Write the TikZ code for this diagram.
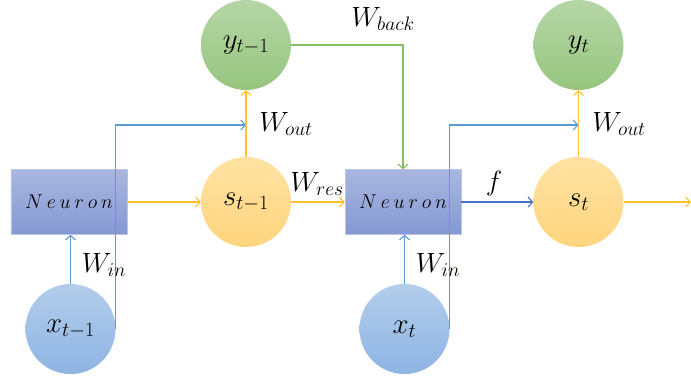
\documentclass[tikz,border=0pt]{standalone}
\usepackage{fix-cm}
\usetikzlibrary{arrows.meta}
\definecolor{blueline}{HTML}{5B9BD5}
\definecolor{darkblueline}{HTML}{4472C4}
\definecolor{yelline}{HTML}{FDC22E}
\definecolor{greenline}{HTML}{86BC62}
\definecolor{xtop}{HTML}{B3CDEB}
\definecolor{xbot}{HTML}{8EB4E3}
\definecolor{stop}{HTML}{FFE2A3}
\definecolor{sbot}{HTML}{FFD57E}
\definecolor{ytop}{HTML}{B5D6A6}
\definecolor{ybot}{HTML}{97C57F}
\definecolor{ntop}{HTML}{A9B6DF}
\definecolor{nbot}{HTML}{8598D2}
\newcommand{\neurontext}{$N\mkern3.5mu e\mkern3.5mu u\mkern3.5mu r\mkern3.5mu o\mkern3.5mu n$}
\tikzset{
  circ/.style={circle, minimum size=90bp, inner sep=0pt, font=\fontsize{29}{33}\selectfont},
  xc/.style={circ, top color=xtop, bottom color=xbot},
  sc/.style={circ, top color=stop, bottom color=sbot},
  yc/.style={circ, top color=ytop, bottom color=ybot},
  neuron/.style={rectangle, minimum width=116bp, minimum height=65bp, inner sep=0pt,
    top color=ntop, bottom color=nbot, draw=ntop!80!white, line width=0.4pt,
    font=\fontsize{20}{24}\selectfont},
  conn/.style={line width=1.4bp, -{Straight Barb[length=4.5bp,width=10bp,line width=1.1bp]}},
  lbl/.style={font=\fontsize{28}{32}\selectfont, inner sep=0pt}
}
\begin{document}
\begin{tikzpicture}[x=1bp,y=-1bp]
\useasboundingbox (0,0) rectangle (691,380);
% nodes
\node[neuron] (n1) at (69,202) {\neurontext};
\node[neuron] (n2) at (403,202) {\neurontext};
\node[xc] (x1) at (70.5,329) {$x_{t-1}$};
\node[xc] (x2) at (404.5,329) {$x_t$};
\node[sc] (s1) at (246,202) {$s_{t-1}$};
\node[sc] (s2) at (578.5,202) {$s_t$};
\node[yc] (y1) at (246,45) {$y_{t-1}$};
\node[yc] (y2) at (578.5,45) {$y_t$};
\coordinate (c1) at (246,125);
\coordinate (c2) at (578.5,125);
\coordinate (out) at (691,202);
% connectors
\draw[conn, blueline] (x1.north) -- (x1.north |- n1.south);
\draw[conn, blueline] (x1.east) |- (c1);
\draw[conn, yelline] (n1.east) -- (s1.west);
\draw[conn, yelline] (s1.north) -- (y1.south);
\draw[conn, yelline] (s1.east) -- (n2.west);
\draw[conn, greenline] (y1.east) -| (n2.north);
\draw[conn, blueline] (x2.north) -- (x2.north |- n2.south);
\draw[conn, blueline] (x2.east) |- (c2);
\draw[conn, darkblueline] (n2.east) -- (s2.west);
\draw[conn, yelline] (s2.north) -- (y2.south);
\draw[conn, yelline] (s2.east) -- (out);
% labels
\node[lbl] (lwin1) at (104,265) {$W_{in}$};
\node[lbl] (lwout1) at (286,124) {$W_{out}$};
\node[lbl] (lwres) at (317,184) {$W_{res}$};
\node[lbl] (lwback) at (383,19) {$W_{back}$};
\node[lbl] (lwin2) at (438,265) {$W_{in}$};
\node[lbl] (lf) at (494,184) {$f$};
\node[lbl] (lwout2) at (619,124) {$W_{out}$};
\end{tikzpicture}
\end{document}
